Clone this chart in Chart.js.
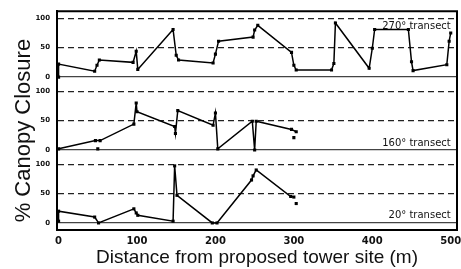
<!DOCTYPE html>
<html>
<head>
<meta charset="utf-8">
<script src="https://cdn.jsdelivr.net/npm/chart.js@4.4.1/dist/chart.umd.min.js"></script>
<style>
  html, body { margin: 0; padding: 0; background: #fff; }
</style>
</head>
<body>
<canvas id="myChart" width="461" height="269"></canvas>
<script>
// distance along each transect (m) and canopy closure (%)
const dist270 = [0, 0, 46, 49, 52, 95, 99, 101, 146, 150, 153, 197, 200, 204, 248, 250, 254, 297, 300, 303, 348, 351, 353, 396, 400, 403, 446, 450, 452, 495, 498, 500];
const cover270 = [0, 22, 10, 20, 29, 25, 44, 13, 81, 37, 29, 24, 39, 61, 68, 80, 88, 42, 20, 12, 12, 23, 92, 15, 49, 81, 81, 26, 11, 21, 61, 75];

const dist160 = [0, 47, 53, 96, 99, 100, 148, 149, 152, 197, 200, 203, 247, 250, 252, 297, 303];
const cover160 = [2, 16, 16, 44, 80, 65, 40, 28, 67, 42, 63, 2, 49, 0, 49, 35, 31];
const dist160Extra = [50, 300];
const cover160Extra = [2, 21];

const dist20 = [0, 0, 46, 51, 96, 99, 101, 146, 148, 151, 196, 202, 246, 248, 252, 296, 300];
const cover20 = [3, 20, 10, 0, 24, 17, 13, 3, 97, 47, 0, 0, 73, 80, 90, 45, 44];
const dist20Extra = [303];
const cover20Extra = [33];

const xTicks = [0, 100, 200, 300, 400, 500];
const yTicks = [0, 50, 100];
const transectLabels = ['270\u00b0 transect', '160\u00b0 transect', '20\u00b0 transect'];
const panelIds = ['y270', 'y160', 'y20'];

const toPoints = (xs, ys) => xs.map((x, i) => ({ x: x, y: ys[i] }));

function lineSet(xs, ys, axis, showLine) {
    return {
        data: toPoints(xs, ys),
        yAxisID: axis,
        showLine: showLine,
        borderColor: '#000',
        borderWidth: 1.5,
        pointStyle: 'rect',
        pointRadius: 2.2,
        pointBackgroundColor: '#000',
        pointBorderColor: '#000',
        pointBorderWidth: 0,
        tension: 0
    };
}

function panelAxis(weight) {
    return {
        type: 'linear',
        position: 'left',
        stack: 'panels',
        stackWeight: 1,
        weight: weight,
        min: -12,
        max: 112,
        afterBuildTicks: (s) => { s.ticks = yTicks.map(v => ({ value: v })); },
        afterFit: (s) => { s.width = 57; },
        ticks: {
            color: '#111',
            padding: 7,
            font: { family: 'DejaVu Sans', size: 7, weight: 'bold' }
        },
        grid: {
            drawTicks: false,
            lineWidth: 1.2,
            color: (ctx) => (ctx.tick && ctx.tick.value === 0) ? '#444' : '#222'
        },
        border: {
            display: true,
            color: '#000',
            width: 2,
            dash: (ctx) => (ctx.tick && ctx.tick.value > 0) ? [6, 4] : []
        }
    };
}

const frameAndText = {
    id: 'frameAndText',
    afterDraw(chart) {
        const { ctx, chartArea: a, scales } = chart;
        ctx.save();
        ctx.strokeStyle = '#000';
        ctx.lineWidth = 2;
        ctx.beginPath();
        ctx.moveTo(a.left, a.top);
        ctx.lineTo(a.right, a.top);
        ctx.lineTo(a.right, a.bottom);
        ctx.stroke();

        ctx.fillStyle = '#111';
        ctx.font = '10px "DejaVu Sans"';
        ctx.textAlign = 'right';
        ctx.textBaseline = 'middle';
        const labelY = [86, 12, 12];
        transectLabels.forEach((t, i) => {
            ctx.fillText(t, scales.x.getPixelForValue(500), scales[panelIds[i]].getPixelForValue(labelY[i]));
        });

        ctx.translate(24, (a.top + a.bottom) / 2 + 10);
        ctx.rotate(-Math.PI / 2);
        ctx.textAlign = 'center';
        ctx.font = '22px "Liberation Sans"';
        ctx.fillText('% Canopy Closure', 0, 0);
        ctx.restore();
    }
};

const ctx = document.getElementById('myChart').getContext('2d');
new Chart(ctx, {
    type: 'scatter',
    data: {
        datasets: [
            lineSet(dist270, cover270, 'y270', true),
            lineSet(dist160, cover160, 'y160', true),
            lineSet(dist160Extra, cover160Extra, 'y160', false),
            lineSet(dist20, cover20, 'y20', true),
            lineSet(dist20Extra, cover20Extra, 'y20', false)
        ]
    },
    options: {
        responsive: false,
        animation: false,
        layout: { padding: { top: 11, right: 3, left: 0, bottom: 0 } },
        plugins: {
            legend: { display: false },
            tooltip: { enabled: false }
        },
        scales: {
            x: {
                type: 'linear',
                min: -2,
                max: 508,
                afterBuildTicks: (s) => { s.ticks = xTicks.map(v => ({ value: v })); },
                afterFit: (s) => { s.height = 39; s.paddingLeft = 0; s.paddingRight = 0; },
                grid: { display: false, drawTicks: false },
                border: { display: true, color: '#000', width: 2 },
                ticks: {
                    color: '#111',
                    padding: 5,
                    maxRotation: 0,
                    font: { family: 'DejaVu Sans', size: 10, weight: 'bold' }
                },
                title: {
                    display: true,
                    text: 'Distance from proposed tower site (m)',
                    color: '#111',
                    padding: { top: 0, bottom: 0 },
                    font: { family: 'Liberation Sans', size: 19 }
                }
            },
            y20: panelAxis(1),
            y160: panelAxis(2),
            y270: panelAxis(3)
        }
    },
    plugins: [frameAndText]
});
</script>
</body>
</html>
